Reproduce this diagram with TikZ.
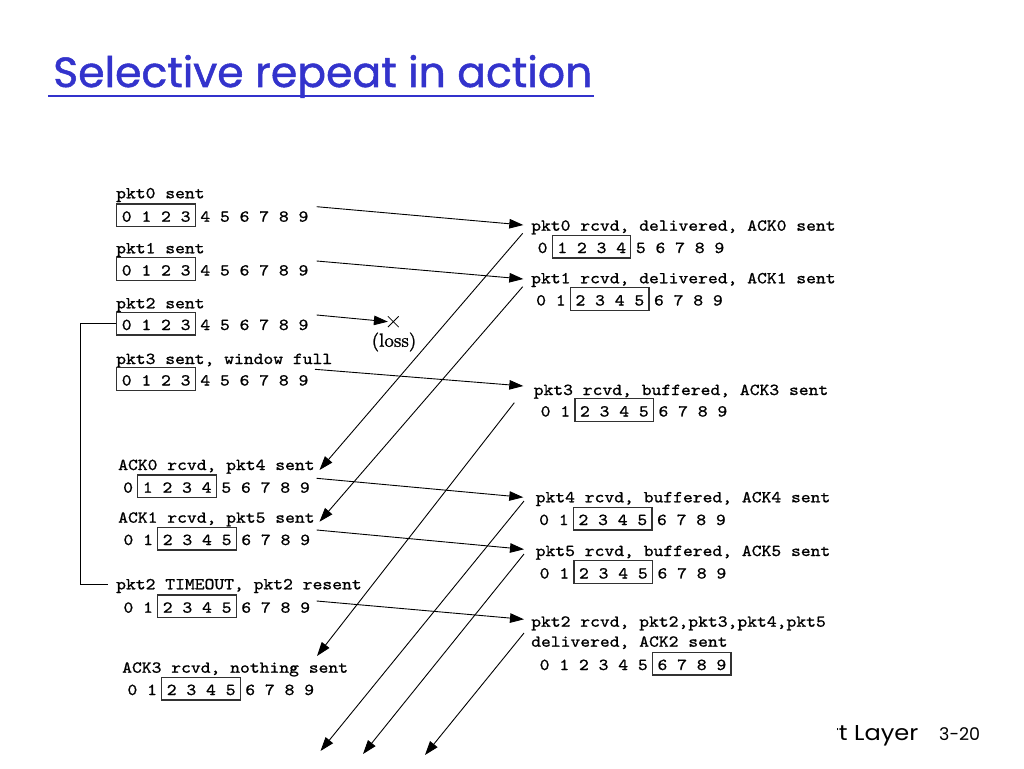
\documentclass[tikz,border=0pt]{standalone}
\usepackage{fontspec}
\usetikzlibrary{arrows.meta,calc,shapes.misc}
\newfontfamily\monofnt{lmmono10-regular.otf}[FakeStretch=1.12,FakeBold=1.0]
\newfontfamily\titlefnt{Poppins}[FakeBold=1.2]
\newfontfamily\footfnt{Poppins}
\newfontfamily\lossfnt{lmroman10-regular.otf}[FakeBold=1.2]
\definecolor{titleblue}{RGB}{51,51,204}
\definecolor{boxgray}{RGB}{50,50,50}
\newcommand\cellw{9.82}
\newcommand\winrow[6]{%
  \node[txt] (#1) at (#2,#3) {#6};
  \draw[winbox] ($(#1.base west)+({(2*#4-0.5)*\cellw},5)$) rectangle ($(#1.base west)+({(2*#5+1.5)*\cellw},-17.7)$);
}
\begin{document}
\begin{tikzpicture}[x=1pt,y=-1pt,
  txt/.style={font=\monofnt\fontsize{16.7}{20}\selectfont, inner sep=0pt, anchor=base west, text=black},
  winbox/.style={draw=boxgray, line width=1.3pt},
  msg/.style={draw=black, line width=0.9pt, -{Triangle[length=14pt,width=9.5pt]}},
  bracket/.style={draw=black, line width=1pt}]
\useasboundingbox[fill=white] (0,0) rectangle (1024,768);

% title
\node[anchor=base west, inner sep=0pt, text=titleblue] (title) at (53,87)
  {\resizebox{539pt}{32pt}{\titlefnt Selective repeat in action}};
\coordinate (ulA) at (48,96.2);
\coordinate (ulB) at (594,96.2);
\draw[titleblue, line width=2.2pt] (ulA) -- (ulB);

% sender side
\node[txt] (lab0) at (116,198.3) {pkt0 sent};
\winrow{row0}{121.6}{221.7}{0}{3}{0 1 2 3 4 5 6 7 8 9}
\node[txt] (lab1) at (116,253.3) {pkt1 sent};
\winrow{row1}{121.6}{275.5}{0}{3}{0 1 2 3 4 5 6 7 8 9}
\node[txt] (lab2) at (116,308.3) {pkt2 sent};
\winrow{row2}{121.6}{330}{0}{3}{0 1 2 3 4 5 6 7 8 9}
\node[txt] (lab3) at (116,364) {pkt3 sent, window full};
\winrow{row3}{121.6}{385.5}{0}{3}{0 1 2 3 4 5 6 7 8 9}
\node[txt] (lab4) at (118,470) {ACK0 rcvd, pkt4 sent};
\winrow{row4}{123}{492.7}{1}{4}{0 1 2 3 4 5 6 7 8 9}
\node[txt] (lab5) at (118,522.7) {ACK1 rcvd, pkt5 sent};
\winrow{row5}{123.3}{545}{2}{5}{0 1 2 3 4 5 6 7 8 9}
\node[txt] (lab6) at (116,589.3) {pkt2 TIMEOUT, pkt2 resent};
\winrow{row6}{123.3}{612.7}{2}{5}{0 1 2 3 4 5 6 7 8 9}
\node[txt] (lab7) at (122,672.7) {ACK3 rcvd, nothing sent};
\winrow{row7}{127.3}{695}{2}{5}{0 1 2 3 4 5 6 7 8 9}

% receiver side
\node[txt] (rlab0) at (531,230.7) {pkt0 rcvd, delivered, ACK0 sent};
\winrow{rrow0}{537.5}{253}{1}{4}{0 1 2 3 4 5 6 7 8 9}
\node[txt] (rlab1) at (531,283.3) {pkt1 rcvd, delivered, ACK1 sent};
\winrow{rrow1}{536}{305.5}{2}{5}{0 1 2 3 4 5 6 7 8 9}
\node[txt] (rlab3) at (533.5,395) {pkt3 rcvd, buffered, ACK3 sent};
\winrow{rrow3}{540.5}{416.5}{2}{5}{0 1 2 3 4 5 6 7 8 9}
\node[txt] (rlab4) at (535.5,502.3) {pkt4 rcvd, buffered, ACK4 sent};
\winrow{rrow4}{539}{525}{2}{5}{0 1 2 3 4 5 6 7 8 9}
\node[txt] (rlab5) at (535.5,556) {pkt5 rcvd, buffered, ACK5 sent};
\winrow{rrow5}{539.5}{578.5}{2}{5}{0 1 2 3 4 5 6 7 8 9}
\node[txt] (rlab2) at (531,626.7) {pkt2 rcvd, pkt2,pkt3,pkt4,pkt5};
\node[txt] (rlab2b) at (531,646.7) {delivered, ACK2 sent};
\winrow{rrow2}{539.5}{670}{6}{9}{0 1 2 3 4 5 6 7 8 9}

% loss marker
\node[cross out, draw=black, line width=0.8pt, minimum size=10pt, inner sep=0pt] (lossx) at (393.3,321.7) {};
\node[font=\lossfnt\fontsize{19}{21}\selectfont, inner sep=0pt] (lossl) at (394,342) {(loss)};

% timeout bracket
\coordinate (brA) at (116,323);
\coordinate (brB) at (80,323);
\coordinate (brC) at (80,584);
\coordinate (brD) at (108,584);
\draw[bracket] (brA) -- (brB) -- (brC) -- (brD);

% data packets
\coordinate (s0) at (316.7,206.7);  \coordinate (e0) at (523.3,225);
\coordinate (s1) at (316.7,261);    \coordinate (e1) at (523.3,279);
\coordinate (s2) at (316.7,315);
\coordinate (s3) at (315,369.3);    \coordinate (e3) at (523.3,386);
\coordinate (s4) at (316.7,478.3);  \coordinate (e4) at (523.3,497.3);
\coordinate (s5) at (316.7,530);    \coordinate (e5) at (524,549.3);
\coordinate (s6) at (316.7,601);    \coordinate (e6) at (524,619.3);
\draw[msg] (s0) -- (e0);
\draw[msg] (s1) -- (e1);
\draw[msg] (s2) -- (lossx.west);
\draw[msg] (s3) -- (e3);
\draw[msg] (s4) -- (e4);
\draw[msg] (s5) -- (e5);
\draw[msg] (s6) -- (e6);

% acks
\coordinate (a0s) at (522.7,233.3); \coordinate (a0e) at (319.5,470);
\coordinate (a1s) at (522.7,286.7); \coordinate (a1e) at (319.5,521.7);
\coordinate (a3s) at (514.3,402.7); \coordinate (a3e) at (317,656);
\coordinate (a4s) at (524,501);     \coordinate (a4e) at (320.5,751);
\coordinate (a5s) at (524,554);     \coordinate (a5e) at (363,754);
\coordinate (a2s) at (524,633);     \coordinate (a2e) at (425,755);
\draw[msg] (a0s) -- (a0e);
\draw[msg] (a1s) -- (a1e);
\draw[msg] (a3s) -- (a3e);
\draw[msg] (a4s) -- (a4e);
\draw[msg] (a5s) -- (a5e);
\draw[msg] (a2s) -- (a2e);

% footer
\begin{scope}
  \clip (837,715) rectangle (1024,760);
  \node[anchor=base east, inner sep=0pt, font=\footfnt\fontsize{21.5}{24}\selectfont] (footl) at (918.5,740.7) {\scalebox{1.12}[1]{Transport Layer}};
\end{scope}
\node[anchor=base west, inner sep=0pt, font=\footfnt\fontsize{17.5}{20}\selectfont] (footn) at (939,740.7) {3-20};
\end{tikzpicture}
\end{document}
